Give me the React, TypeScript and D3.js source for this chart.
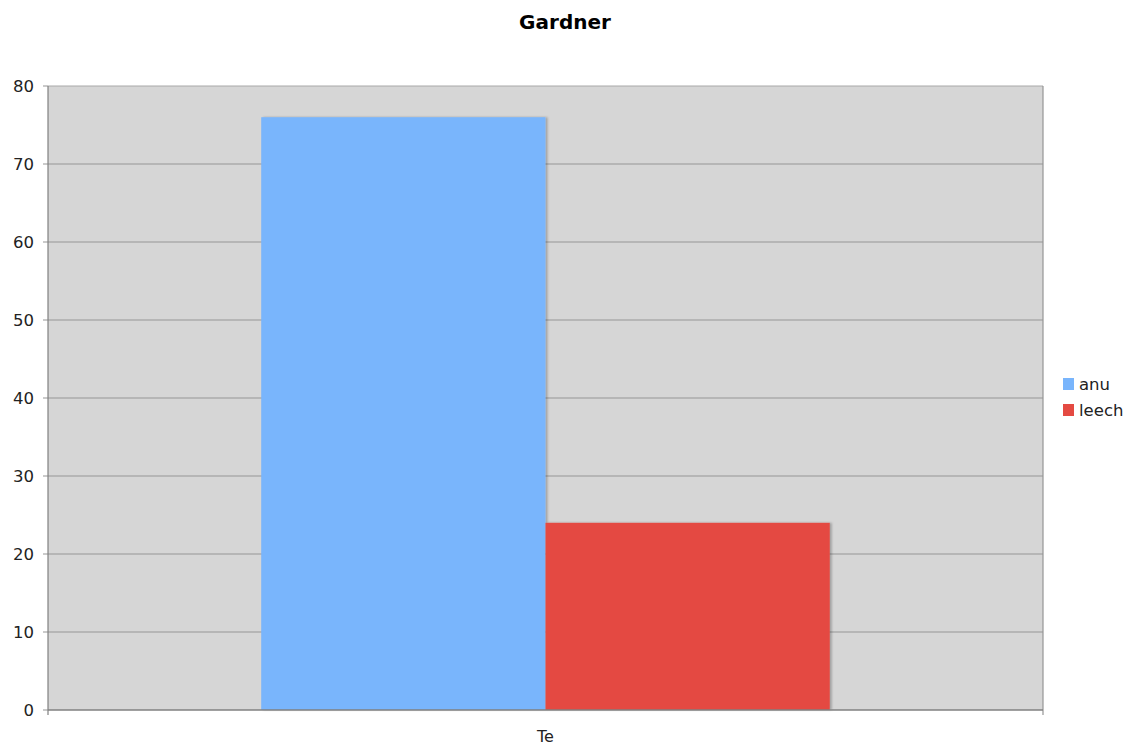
import React from "react";
import * as d3 from "d3";

const title = "Gardner";
const categories = ["Te"];
const seriesNames = ["anu", "leech"];
const seriesValues = [[76], [24]];
const seriesColors = ["#79b5fc", "#e44a42"];
const yTicks = [0, 10, 20, 30, 40, 50, 60, 70, 80];

const W = 1131;
const H = 749;
const margin = { left: 48, right: 88, top: 86, bottom: 39 };
const font = "'DejaVu Sans', Verdana, sans-serif";

export default function App() {
  const innerW = W - margin.left - margin.right;
  const innerH = H - margin.top - margin.bottom;

  const y = d3.scaleLinear().domain([0, 80]).range([innerH, 0]);
  const x0 = d3.scaleBand().domain(categories).range([0, innerW]).paddingInner(0).paddingOuter(0.375);
  const x1 = d3.scaleBand().domain(seriesNames).range([0, x0.bandwidth()]);

  return (
    <svg width={W} height={H} style={{ display: "block", position: "absolute", left: 0, top: 0 }}>
      <defs>
        <filter id="shadow" x="-5%" y="-5%" width="115%" height="110%">
          <feDropShadow dx="2" dy="0" stdDeviation="1.2" floodColor="#000" floodOpacity="0.25" />
        </filter>
      </defs>
      <rect width={W} height={H} fill="#fff" />
      <text x={565} y={29} textAnchor="middle" fontFamily={font} fontWeight="bold" fontSize={20} fill="#000">
        {title}
      </text>
      <g transform={`translate(${margin.left},${margin.top})`}>
        <rect width={innerW} height={innerH} fill="#d6d6d6" />
        {yTicks.map((t) => (
          <g key={t}>
            {t > 0 && t < 80 && (
              <line x1={0} x2={innerW} y1={y(t)} y2={y(t)} stroke="#959595" strokeWidth={1.2} />
            )}
            <line x1={-5} x2={0} y1={y(t)} y2={y(t)} stroke="#959595" strokeWidth={1} />
            <text x={-14} y={y(t)} dy="0.35em" textAnchor="end" fontFamily={font} fontSize={16.5} fill="#222">
              {t}
            </text>
          </g>
        ))}
        <line x1={0} x2={innerW} y1={0} y2={0} stroke="#a8a8a8" strokeWidth={1} />
        <line x1={innerW} x2={innerW} y1={0} y2={innerH + 5} stroke="#959595" strokeWidth={1.2} />
        {categories.map((c, ci) => (
          <g key={c} transform={`translate(${x0(c)},0)`}>
            {seriesNames.map((s, si) => (
              <rect
                key={s}
                x={x1(s)}
                y={y(seriesValues[si][ci])}
                width={x1.bandwidth()}
                height={innerH - y(seriesValues[si][ci])}
                fill={seriesColors[si]}
                filter="url(#shadow)"
              />
            ))}
            <text x={x0.bandwidth() / 2} y={innerH + 32} textAnchor="middle" fontFamily={font} fontSize={16} fill="#222">
              {c}
            </text>
          </g>
        ))}
        <line x1={0} x2={0} y1={0} y2={innerH + 5} stroke="#808080" strokeWidth={1.2} />
        <line x1={0} x2={innerW} y1={innerH} y2={innerH} stroke="#808080" strokeWidth={1.5} />
      </g>
      <g transform="translate(1063,378)">
        {seriesNames.map((s, i) => (
          <g key={s} transform={`translate(0,${i * 26})`}>
            <rect width={11} height={12} fill={seriesColors[i]} />
            <text x={16} y={6} dy="0.35em" fontFamily={font} fontSize={16.5} fill="#222">
              {s}
            </text>
          </g>
        ))}
      </g>
    </svg>
  );
}
